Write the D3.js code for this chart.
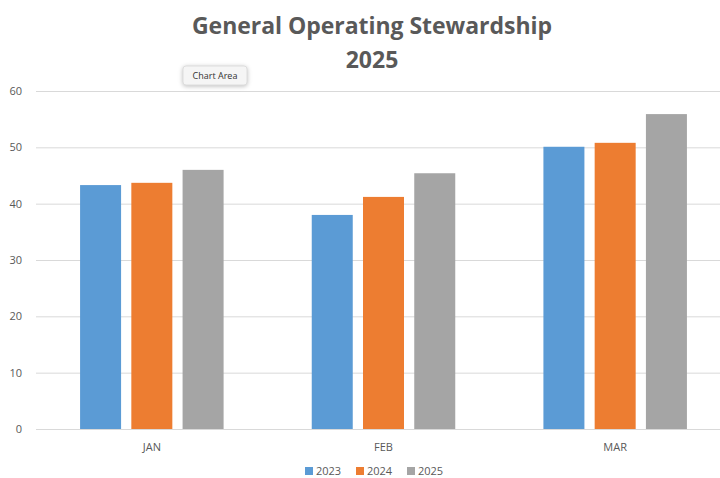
<!DOCTYPE html>
<html>
  <head>
    <meta charset="UTF-8">
    <title>General Operating Stewardship 2025</title>
    <script src="https://d3js.org/d3.v7.min.js"></script>
    <style>
      body { margin: 0; background: #fff; }
      text { font-family: "Open Sans", "Liberation Sans", sans-serif; fill: #595959; }
    </style>
  </head>
  <body>
    <svg id="chart" width="720" height="478"></svg>
    <script>
      // Data
      const months = ["JAN", "FEB", "MAR"];
      const years = ["2023", "2024", "2025"];
      const values2023 = [43.3, 38.0, 50.1];
      const values2024 = [43.7, 41.2, 50.8];
      const values2025 = [46.0, 45.4, 55.9];
      const yTicks = [0, 10, 20, 30, 40, 50, 60];
      const colors = ["#5B9BD5", "#ED7D31", "#A5A5A5"];

      const seriesValues = [values2023, values2024, values2025];
      const rows = months.map((m, i) => ({
        month: m,
        vals: years.map((y, j) => ({ year: y, value: seriesValues[j][i] }))
      }));

      const svg = d3.select("#chart");

      const x = d3.scaleBand().domain(months).range([36, 731]);
      const xInner = d3.scaleBand().domain(years)
        .range([0, x.bandwidth()])
        .paddingInner(0.2)
        .paddingOuter(0.86);
      const y = d3.scaleLinear().domain([0, 60]).range([429, 91]);

      // Gridlines
      svg.append("g")
        .selectAll("line")
        .data(yTicks)
        .join("line")
        .attr("x1", 36)
        .attr("x2", 720)
        .attr("y1", d => y(d) + 0.5)
        .attr("y2", d => y(d) + 0.5)
        .attr("stroke", "#D9D9D9")
        .attr("stroke-width", 1);

      // Y tick labels
      svg.append("g")
        .selectAll("text")
        .data(yTicks)
        .join("text")
        .attr("x", 22)
        .attr("y", d => y(d) + 4)
        .attr("text-anchor", "end")
        .attr("font-size", 11)
        .text(d => d);

      // Bars
      const groups = svg.append("g")
        .selectAll("g")
        .data(rows)
        .join("g")
        .attr("transform", d => `translate(${x(d.month)},0)`);

      groups.selectAll("rect")
        .data(d => d.vals)
        .join("rect")
        .attr("x", d => xInner(d.year))
        .attr("width", xInner.bandwidth())
        .attr("y", d => y(d.value))
        .attr("height", d => y(0) - y(d.value))
        .attr("fill", (d, i) => colors[i]);

      // X labels
      svg.append("g")
        .selectAll("text")
        .data(months)
        .join("text")
        .attr("x", d => x(d) + x.bandwidth() / 2)
        .attr("y", 451)
        .attr("text-anchor", "middle")
        .attr("font-size", 11)
        .text(d => d);

      // Title
      svg.append("text")
        .attr("x", 372)
        .attr("y", 34)
        .attr("text-anchor", "middle")
        .attr("font-size", 23)
        .attr("font-weight", "bold")
        .attr("textLength", 360)
        .text("General Operating Stewardship");
      svg.append("text")
        .attr("x", 372)
        .attr("y", 68)
        .attr("text-anchor", "middle")
        .attr("font-size", 23)
        .attr("font-weight", "bold")
        .text("2025");

      // Legend
      const legend = svg.append("g")
        .selectAll("g")
        .data(years)
        .join("g")
        .attr("transform", (d, i) => `translate(${305 + i * 51},466)`);
      legend.append("rect")
        .attr("width", 8)
        .attr("height", 8)
        .attr("y", 1)
        .attr("fill", (d, i) => colors[i]);
      legend.append("text")
        .attr("x", 11)
        .attr("y", 9)
        .attr("font-size", 11)
        .text(d => d);

      // "Chart Area" hover tag
      const tag = svg.append("g").attr("transform", "translate(183,66)");
      tag.append("rect")
        .attr("width", 64)
        .attr("height", 19)
        .attr("rx", 3)
        .attr("fill", "#F5F5F5")
        .attr("stroke", "#DDDDDD")
        .style("filter", "drop-shadow(0 1px 2px rgba(0,0,0,0.25))");
      tag.append("text")
        .attr("x", 32)
        .attr("y", 13)
        .attr("text-anchor", "middle")
        .attr("font-size", 9)
        .style("fill", "#333")
        .text("Chart Area");
    </script>
  </body>
</html>
